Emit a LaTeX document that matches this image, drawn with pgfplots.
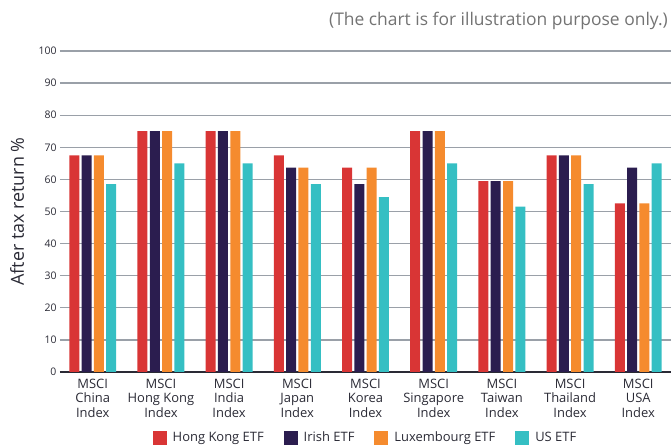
\documentclass[border=0pt]{standalone}
\usepackage{pgfplots}
\pgfplotsset{compat=1.18}
\usepackage{fontspec}
\setmainfont{Open Sans}
\definecolor{hkred}{HTML}{D93535}
\definecolor{irnavy}{HTML}{2B1D4F}
\definecolor{luxorange}{HTML}{F58B2E}
\definecolor{usteal}{HTML}{35BFC3}
\definecolor{gridgray}{HTML}{9AA0A8}
\definecolor{txt}{HTML}{2A2A35}

\begin{document}
\begin{tikzpicture}
\path[use as bounding box] (0,0) rectangle (671bp,447bp);
\node[anchor=north east, text=gray!90!black, font=\fontsize{17.5}{19}\selectfont, inner sep=0pt]
  at (668bp,435bp) {(The chart is for illustration purpose only.)};
\begin{axis}[
  at={(60bp,75bp)}, anchor=south west,
  width=611bp, height=321bp, scale only axis,
  ymin=0, ymax=100, ytick={0,10,...,100},
  xmin=-0.48, xmax=8.48,
  xtick={0,...,8},
  xticklabels={{MSCI\\China\\Index},{MSCI\\Hong Kong\\Index},{MSCI\\India\\Index},{MSCI\\Japan\\Index},{MSCI\\Korea\\Index},{MSCI\\Singapore\\Index},{MSCI\\Taiwan\\Index},{MSCI\\Thailand\\Index},{MSCI\\USA\\Index}},
  xticklabel style={align=center, font=\fontsize{13}{14.5}\selectfont, text=txt, yshift=1bp},
  yticklabel style={font=\fontsize{10.5}{12}\selectfont, text=txt},
  /pgf/number format/assume math mode=true,
  ymajorgrids, major grid style={gridgray, line width=1.3bp},
  axis x line*=bottom, axis y line*=left,
  x axis line style={txt, line width=1.4bp, -},
  y axis line style={draw=none},
  tick style={draw=none},
  ylabel={After tax return \%},
  ylabel style={at={(axis description cs:-0.07,0.5)}, anchor=center, font=\fontsize{18}{20}\selectfont, text=txt},
  ybar=2.3bp, bar width=10bp,
  legend style={at={(0.5,-0.205)}, anchor=center, draw=none, legend columns=4,
    font=\fontsize{13}{14}\selectfont, text=txt,
    /tikz/every odd column/.append style={column sep=4bp},
    /tikz/every even column/.append style={column sep=18bp}},
  legend image code/.code={\fill[#1] (0bp,-7bp) rectangle (14bp,7bp);},
]
\addplot[draw=none, fill=hkred] coordinates {(0,67.5) (1,75) (2,75) (3,67.5) (4,63.7) (5,75) (6,59.5) (7,67.5) (8,52.5)};
\addplot[draw=none, fill=irnavy] coordinates {(0,67.5) (1,75) (2,75) (3,63.7) (4,58.5) (5,75) (6,59.5) (7,67.5) (8,63.7)};
\addplot[draw=none, fill=luxorange] coordinates {(0,67.5) (1,75) (2,75) (3,63.7) (4,63.7) (5,75) (6,59.5) (7,67.5) (8,52.5)};
\addplot[draw=none, fill=usteal] coordinates {(0,58.5) (1,65) (2,65) (3,58.5) (4,54.5) (5,65) (6,51.5) (7,58.5) (8,65)};
\legend{Hong Kong ETF, Irish ETF, Luxembourg ETF, US ETF}
\end{axis}
\end{tikzpicture}
\end{document}
